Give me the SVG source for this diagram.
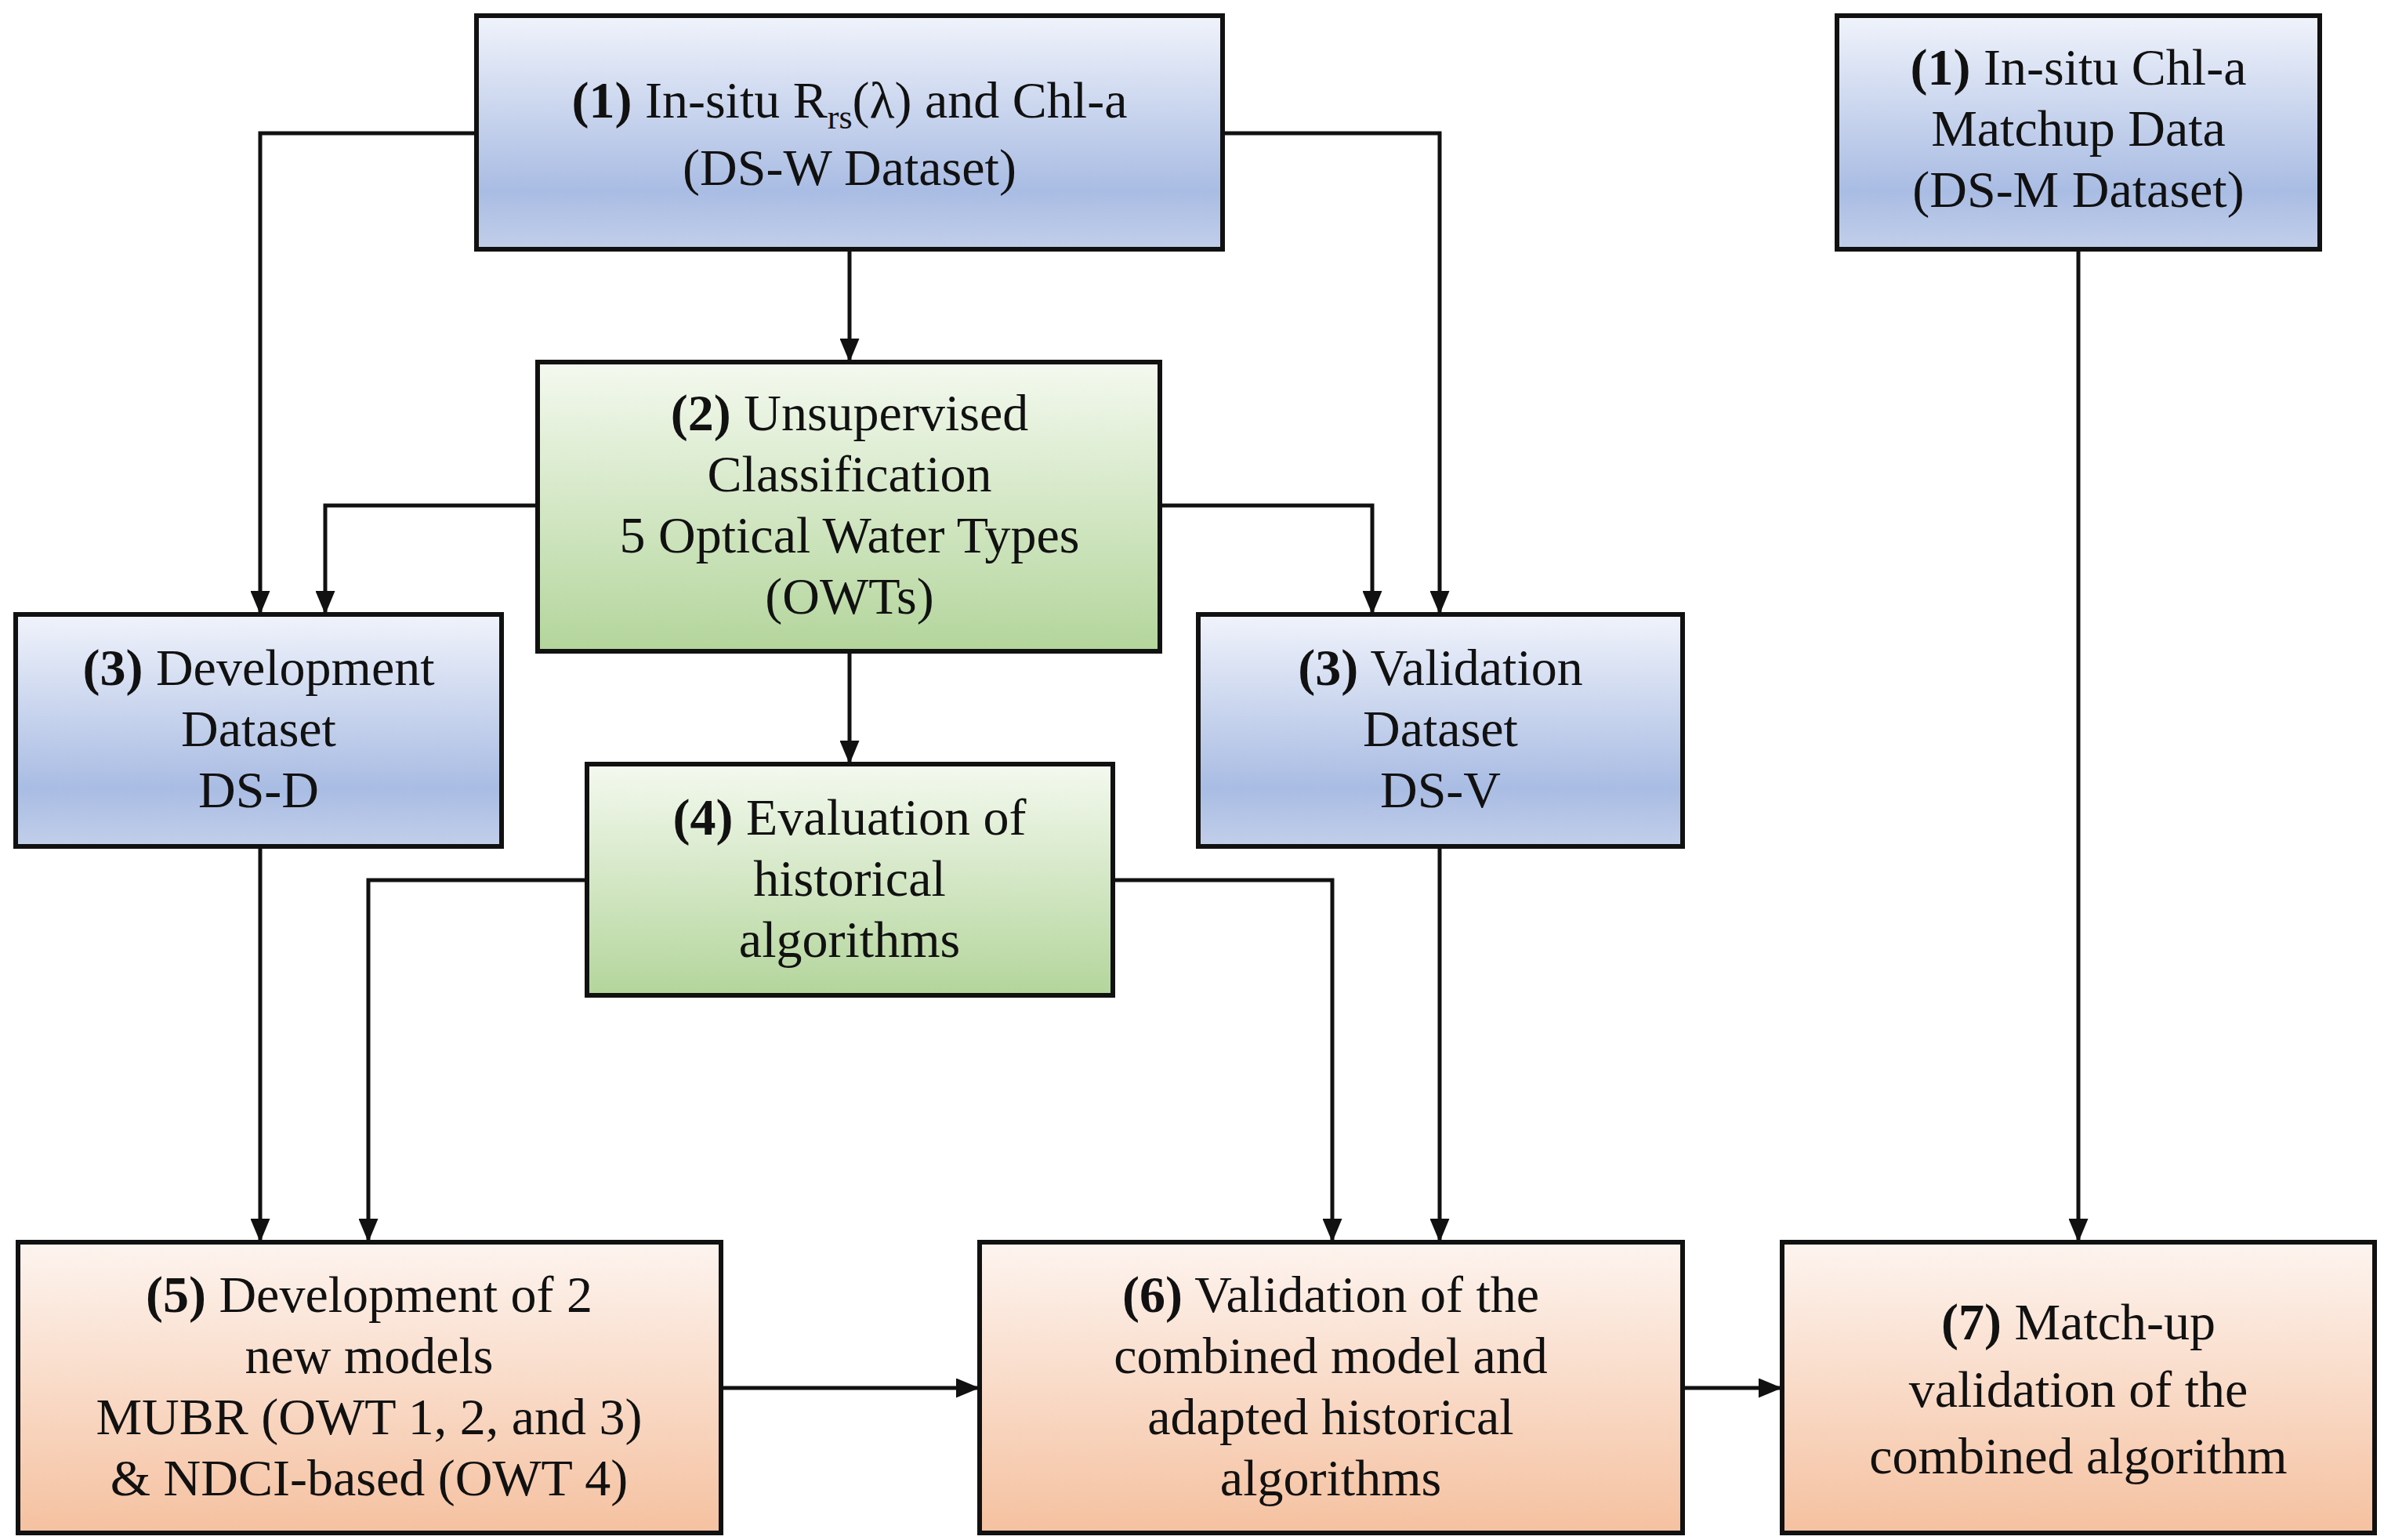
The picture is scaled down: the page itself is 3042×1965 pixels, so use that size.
<svg xmlns="http://www.w3.org/2000/svg" width="3042" height="1965" viewBox="0 0 3042 1965">
<style>
text{font-family:"Liberation Serif","DejaVu Serif",serif;font-size:66px;fill:#111;text-anchor:middle}
.b{font-weight:bold}
.box{stroke:#111;stroke-width:6}
.c{fill:none;stroke:#111;stroke-width:5}
</style>
<defs>
<linearGradient id="gb" x1="0" y1="0" x2="0" y2="1"><stop offset="0" stop-color="#f0f3fb"/><stop offset="0.75" stop-color="#a9bce3"/><stop offset="1" stop-color="#c2cfea"/></linearGradient>
<linearGradient id="gg" x1="0" y1="0" x2="0" y2="1"><stop offset="0" stop-color="#f4f9ef"/><stop offset="1" stop-color="#b3d59b"/></linearGradient>
<linearGradient id="go" x1="0" y1="0" x2="0" y2="1"><stop offset="0" stop-color="#fdf4ef"/><stop offset="1" stop-color="#f5c1a0"/></linearGradient>
<marker id="ah" markerWidth="6" markerHeight="5" refX="6" refY="2.5" orient="auto" markerUnits="strokeWidth"><path d="M0,0L6,2.5L0,5z" fill="#111"/></marker>
</defs>
<g id="connectors">
<path class="c" marker-end="url(#ah)" d="M608,170H332V784"/>
<path class="c" marker-end="url(#ah)" d="M1560,170H1837V784"/>
<path class="c" marker-end="url(#ah)" d="M1084,318V462"/>
<path class="c" marker-end="url(#ah)" d="M686,645H415V784"/>
<path class="c" marker-end="url(#ah)" d="M1480,645H1751V784"/>
<path class="c" marker-end="url(#ah)" d="M1084,831V975"/>
<path class="c" marker-end="url(#ah)" d="M332,1080V1585"/>
<path class="c" marker-end="url(#ah)" d="M749,1123H470V1585"/>
<path class="c" marker-end="url(#ah)" d="M1420,1123H1700V1585"/>
<path class="c" marker-end="url(#ah)" d="M1837,1080V1585"/>
<path class="c" marker-end="url(#ah)" d="M2652,318V1585"/>
<path class="c" marker-end="url(#ah)" d="M920,1771H1250"/>
<path class="c" marker-end="url(#ah)" d="M2147,1771H2274"/>
</g>
<g id="n1"><rect class="box" x="608" y="20" width="952" height="298" fill="url(#gb)"/>
<text x="1084" y="150"><tspan class="b">(1)</tspan> In-situ R<tspan font-size="44" dy="14">rs</tspan><tspan dy="-14">(λ) and Chl-a</tspan></text>
<text x="1084" y="236">(DS-W Dataset)</text></g>
<g id="n1b"><rect class="box" x="2344" y="20" width="616" height="298" fill="url(#gb)"/>
<text x="2652" y="108"><tspan class="b">(1)</tspan> In-situ Chl-a</text>
<text x="2652" y="186">Matchup Data</text>
<text x="2652" y="264">(DS-M Dataset)</text></g>
<g id="n2"><rect class="box" x="686" y="462" width="794" height="369" fill="url(#gg)"/>
<text x="1084" y="549"><tspan class="b">(2)</tspan> Unsupervised</text>
<text x="1084" y="627">Classification</text>
<text x="1084" y="705">5 Optical Water Types</text>
<text x="1084" y="783">(OWTs)</text></g>
<g id="n3a"><rect class="box" x="20" y="784" width="620" height="296" fill="url(#gb)"/>
<text x="330" y="874"><tspan class="b">(3)</tspan> Development</text>
<text x="330" y="952">Dataset</text>
<text x="330" y="1030">DS-D</text></g>
<g id="n3b"><rect class="box" x="1529" y="784" width="618" height="296" fill="url(#gb)"/>
<text x="1838" y="874"><tspan class="b">(3)</tspan> Validation</text>
<text x="1838" y="952">Dataset</text>
<text x="1838" y="1030">DS-V</text></g>
<g id="n4"><rect class="box" x="749" y="975" width="671" height="295" fill="url(#gg)"/>
<text x="1084" y="1065"><tspan class="b">(4)</tspan> Evaluation of</text>
<text x="1084" y="1143">historical</text>
<text x="1084" y="1221">algorithms</text></g>
<g id="n5"><rect class="box" x="23" y="1585" width="897" height="371" fill="url(#go)"/>
<text x="471" y="1674"><tspan class="b">(5)</tspan> Development of 2</text>
<text x="471" y="1752">new models</text>
<text x="471" y="1830">MUBR (OWT 1, 2, and 3)</text>
<text x="471" y="1908">&amp; NDCI-based (OWT 4)</text></g>
<g id="n6"><rect class="box" x="1250" y="1585" width="897" height="371" fill="url(#go)"/>
<text x="1698" y="1674"><tspan class="b">(6)</tspan> Validation of the</text>
<text x="1698" y="1752">combined model and</text>
<text x="1698" y="1830">adapted historical</text>
<text x="1698" y="1908">algorithms</text></g>
<g id="n7"><rect class="box" x="2274" y="1585" width="756" height="371" fill="url(#go)"/>
<text x="2652" y="1709"><tspan class="b">(7)</tspan> Match-up</text>
<text x="2652" y="1795">validation of the</text>
<text x="2652" y="1880">combined algorithm</text></g>
</svg>
